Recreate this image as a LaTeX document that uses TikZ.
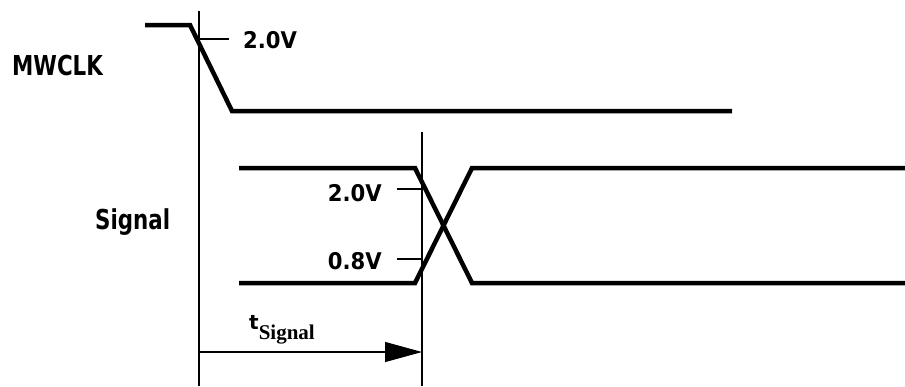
\documentclass[tikz,border=0pt]{standalone}
\usepackage{fontspec}
\setmainfont{DejaVu Sans}
\newfontfamily\lblfont{DejaVu Sans Bold}
\newfontfamily\subfont{Liberation Serif Bold}
\usetikzlibrary{arrows.meta}
\newcommand{\biglbl}[1]{\scalebox{0.78}[1]{\lblfont\fontsize{27.4}{30}\selectfont #1}}
\newcommand{\voltlbl}[1]{\scalebox{0.92}[1]{\lblfont\fontsize{23}{26}\selectfont #1}}
\begin{document}
\begin{tikzpicture}[x=1pt,y=-1pt,
  wave/.style={line width=4.5pt,line cap=butt,line join=miter},
  thin/.style={line width=1.1pt},
  lbl/.style={inner sep=0pt},
  timearrow/.style={thin,-{Triangle[length=37pt,width=20pt]}}]
\useasboundingbox (0,0) rectangle (905,386);
% reference verticals
\coordinate (v1t) at (199,11);
\coordinate (v1b) at (199,386);
\coordinate (v2t) at (422,132);
\coordinate (v2b) at (422,386);
\draw[thin] (v1t) -- (v1b);
\draw[thin] (v2t) -- (v2b);
% MWCLK waveform
\coordinate (m0) at (145,25);
\coordinate (m1) at (190,25);
\coordinate (m2) at (232,111);
\coordinate (m3) at (732,111);
\draw[wave] (m0) -- (m1) -- (m2) -- (m3);
% Signal waveform
\coordinate (s0) at (239,168);
\coordinate (s1) at (415,168);
\coordinate (s2) at (472,283);
\coordinate (s3) at (905,283);
\coordinate (r0) at (239,283);
\coordinate (r1) at (415,283);
\coordinate (r2) at (472,168);
\coordinate (r3) at (905,168);
\draw[wave] (s0) -- (s1) -- (s2) -- (s3);
\draw[wave] (r0) -- (r1) -- (r2) -- (r3);
% level ticks
\coordinate (tk1a) at (199,39);
\coordinate (tk1b) at (229,39);
\coordinate (tk2a) at (397,189);
\coordinate (tk2b) at (422,189);
\coordinate (tk3a) at (397,259);
\coordinate (tk3b) at (422,259);
\draw[thin] (tk1a) -- (tk1b);
\draw[thin] (tk2a) -- (tk2b);
\draw[thin] (tk3a) -- (tk3b);
% labels
\node[lbl,anchor=base west] (mwclk) at (12,75) {\biglbl{MWCLK}};
\node[lbl,anchor=base west] (v20a) at (243,48) {\voltlbl{2.0V}};
\node[lbl,anchor=base west] (sig) at (95,229) {\biglbl{Signal}};
\node[lbl,anchor=base east] (v20b) at (382,201) {\voltlbl{2.0V}};
\node[lbl,anchor=base east] (v08) at (382,269) {\voltlbl{0.8V}};
% timing arrow
\coordinate (a0) at (199,352);
\coordinate (a1) at (422,352);
\draw[timearrow] (a0) -- (a1);
\node[lbl,anchor=base west] (tsig) at (249,329)
  {\lblfont\fontsize{20}{24}\selectfont t\raisebox{-10pt}{\subfont\fontsize{21}{22}\selectfont Signal}};
\end{tikzpicture}
\end{document}
